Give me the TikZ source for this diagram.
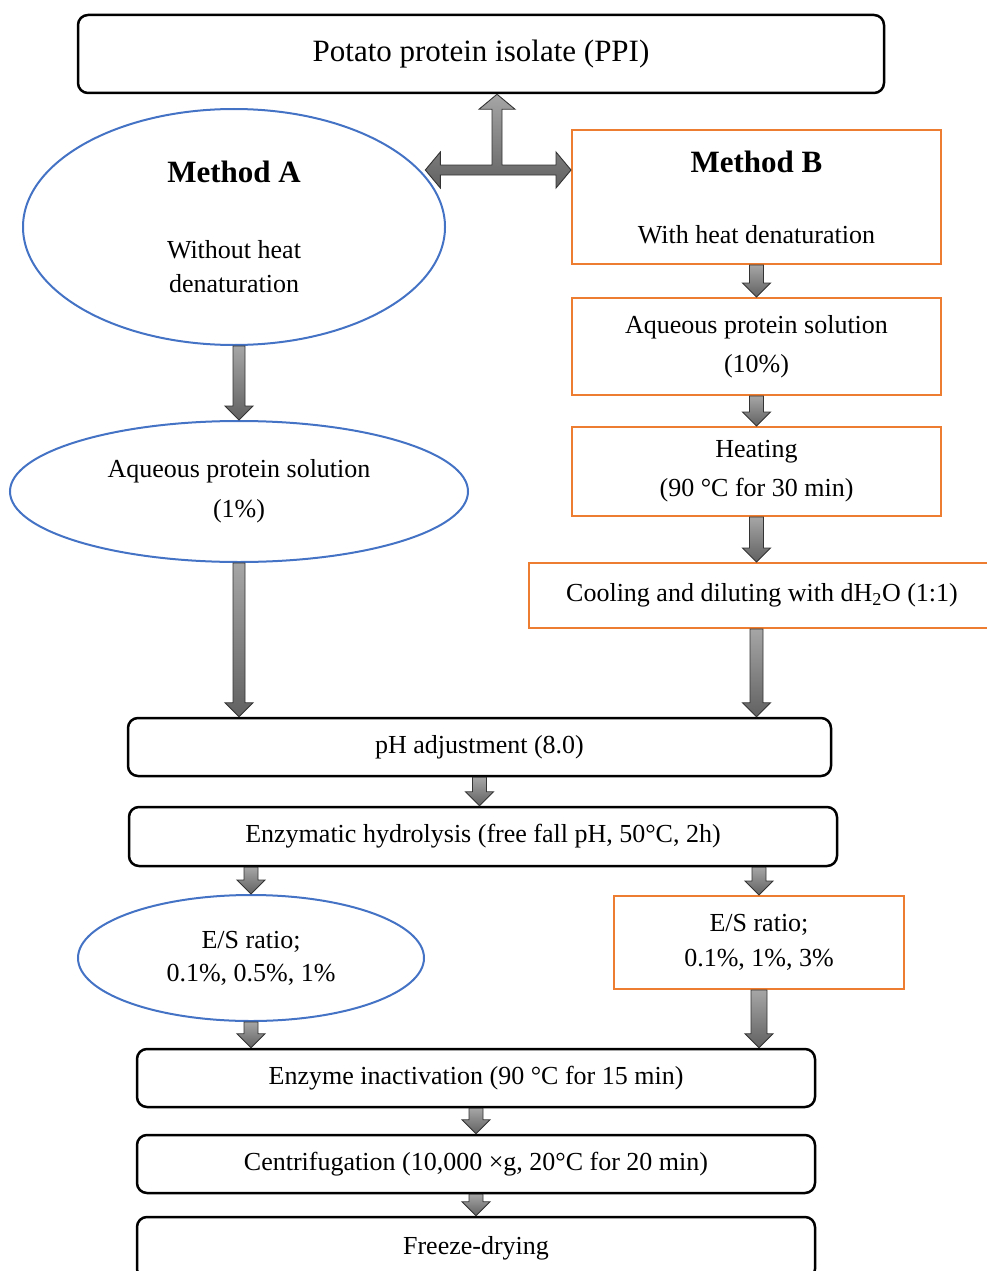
\documentclass[tikz,border=0pt]{standalone}
\usepackage{fontspec}
\setmainfont{Liberation Serif}
\usetikzlibrary{shapes.geometric,calc}

\definecolor{methodblue}{HTML}{4472C4}
\definecolor{methodorange}{HTML}{ED7D31}

\tikzset{
  every node/.style={font=\fontsize{26}{39}\selectfont, align=center, inner sep=0pt},
  plainbox/.style={draw, line width=2.5pt, rounded corners=10pt},
  abox/.style={draw=methodblue, line width=2pt, ellipse},
  bbox/.style={draw=methodorange, line width=2pt},
  flowarrow/.style={draw=black!80, line width=0.9pt, top color=black!35, bottom color=black!62}
}

% block arrow pointing down, #1 = half shaft width
\newcommand{\flowarrow}[3][7]{%
  \path[flowarrow] let \p1=(#2), \p2=(#3) in
    (\x1-#1pt,\y1) -- (\x1+#1pt,\y1) -- (\x1+#1pt,\y2+14pt) -- (\x1+14pt,\y2+14pt)
    -- (\x1,\y2) -- (\x1-14pt,\y2+14pt) -- (\x1-#1pt,\y2+14pt) -- cycle;}

\newcommand{\headfont}{\fontsize{31}{37}\selectfont\bfseries}

\begin{document}
\begin{tikzpicture}[x=1pt, y=-1pt]
\useasboundingbox (0,0) rectangle (986,1271);

\node[plainbox, minimum width=806pt, minimum height=78pt] (ppi) at (481,54)
  {\fontsize{31}{37}\selectfont Potato protein isolate (PPI)};

% method A
\node[abox, minimum width=422pt, minimum height=236pt] (ma) at (234,227)
  {{\headfont Method A}\\[37pt]Without heat\\[-5pt]denaturation};
\node[abox, minimum width=458pt, minimum height=141pt] (sa) at (239,491.5)
  {Aqueous protein solution\\[1pt](1\%)};

% method B
\node[bbox, minimum width=369pt, minimum height=134pt] (mb) at (756.5,197)
  {{\headfont Method B}\\[32pt]With heat denaturation};
\node[bbox, minimum width=369pt, minimum height=97pt] (sb) at (756.5,346.5)
  {Aqueous protein solution\\(10\%)};
\node[bbox, minimum width=369pt, minimum height=89pt] (heat) at (756.5,471.5)
  {Heating\\(90 °C for 30 min)};
\node[bbox, minimum width=466pt, minimum height=65pt] (cool) at (762,595.5)
  {Cooling and diluting with dH\textsubscript{2}O (1:1)};

% common steps
\node[plainbox, minimum width=703pt, minimum height=58pt] (ph) at (479.5,747)
  {pH adjustment (8.0)};
\node[plainbox, minimum width=708pt, minimum height=59pt] (hyd) at (483,836.5)
  {Enzymatic hydrolysis (free fall pH, 50°C, 2h)};
\node[abox, minimum width=346pt, minimum height=126pt] (ea) at (251,958)
  {E/S ratio;\\[-6pt]0.1\%, 0.5\%, 1\%};
\node[bbox, minimum width=290pt, minimum height=93pt] (eb) at (759,942.5)
  {E/S ratio;\\[-4pt]0.1\%, 1\%, 3\%};
\node[plainbox, minimum width=678pt, minimum height=58pt] (inact) at (476,1078)
  {Enzyme inactivation (90 °C for 15 min)};
\node[plainbox, minimum width=678pt, minimum height=58pt] (cent) at (476,1164)
  {Centrifugation (10,000 ×g, 20°C for 20 min)};
\node[plainbox, minimum width=678pt, minimum height=62pt] (fd) at (476,1248)
  {Freeze-drying};

% split arrow under the isolate
\coordinate (split) at (497,170);
\coordinate (top) at (ppi.south -| split);
\coordinate (rtip) at (split -| mb.west);
\coordinate (ltip) at (split -| ma.15);
\path[flowarrow] (top) -- ++(18,15) -- ++(-13,0) -- ($(split)+(5,-5)$)
  -- ($(rtip)+(-15,-5)$) -- ($(rtip)+(-15,-18)$) -- (rtip) -- ($(rtip)+(-15,18)$)
  -- ($(rtip)+(-15,5)$) -- ($(ltip)+(15,5)$) -- ($(ltip)+(15,18)$) -- (ltip)
  -- ($(ltip)+(15,-18)$) -- ($(ltip)+(15,-5)$) -- ($(split)+(-5,-5)$)
  -- ($(top)+(-5,15)$) -- ($(top)+(-18,15)$) -- cycle;

\flowarrow[6]{ma.south -| sa.north}{sa.north}
\flowarrow[6]{sa.south}{sa.south |- ph.north}
\flowarrow{mb.south}{sb.north}
\flowarrow{sb.south}{heat.north}
\flowarrow{heat.south}{heat.south |- cool.north}
\flowarrow[6.5]{cool.south -| mb.south}{mb.south |- ph.north}
\flowarrow{ph.south}{ph.south |- hyd.north}
\flowarrow{hyd.south -| ea.north}{ea.north}
\flowarrow{hyd.south -| eb.north}{eb.north}
\flowarrow{ea.south}{ea.south |- inact.north}
\flowarrow[8]{eb.south}{eb.south |- inact.north}
\flowarrow{inact.south}{inact.south |- cent.north}
\flowarrow{cent.south}{cent.south |- fd.north}
\end{tikzpicture}
\end{document}
